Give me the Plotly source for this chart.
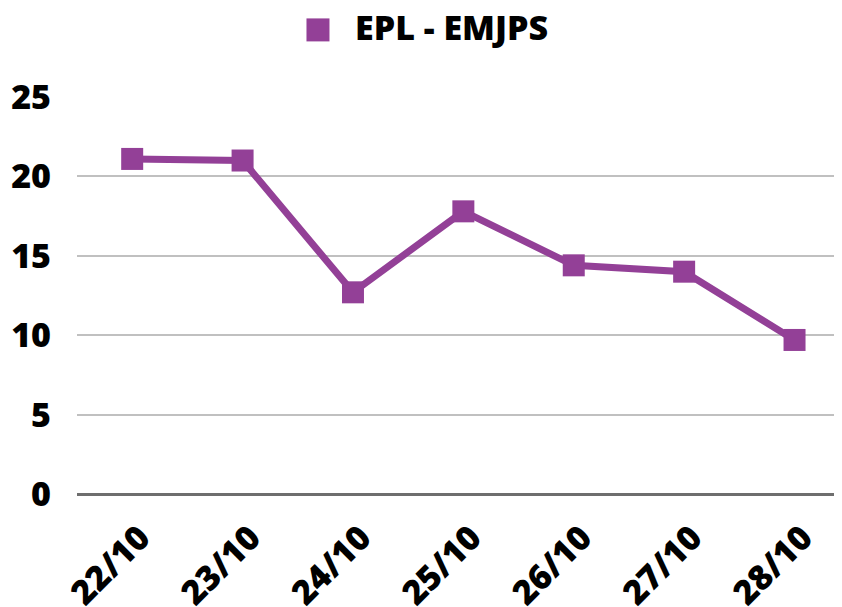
import plotly.graph_objects as go

# data
days = ["22/10", "23/10", "24/10", "25/10", "26/10", "27/10", "28/10"]
epl_emjps = [21.1, 21.0, 12.7, 17.8, 14.4, 14.0, 9.7]
y_ticks = [0, 5, 10, 15, 20, 25]
series_name = "EPL - EMJPS"

purple = "rgb(147, 64, 151)"
font_family = "Open Sans"
fsize = 34

fig = go.Figure()
fig.add_trace(go.Scatter(
  x=days,
  y=epl_emjps,
  mode="lines+markers",
  name=series_name,
  showlegend=False,
  line=dict(color=purple, width=7),
  marker=dict(symbol="square", size=22, color=purple),
))

# legend drawn by hand: plotly caps legend symbols at 16px, the reference square is bigger
fig.add_shape(
  type="rect",
  xref="paper", yref="paper",
  xsizemode="pixel", ysizemode="pixel",
  xanchor=0.315, yanchor=1.169,
  x0=-11.5, x1=11.5, y0=-11.5, y1=11.5,
  fillcolor=purple, line=dict(width=0),
)
fig.add_annotation(
  text=series_name,
  xref="paper", yref="paper",
  x=0.49, y=1.176,
  xanchor="center", yanchor="middle",
  showarrow=False,
  font=dict(size=fsize, weight=800, color="black"),
)

# page body has an 8px margin, so margins are pulled in by 8px
fig.update_layout(
  width=842,
  height=607,
  margin=dict(l=69, r=8, t=89, b=121),
  plot_bgcolor="white",
  paper_bgcolor="white",
  font=dict(family=font_family, color="black", size=fsize, weight=800),
  showlegend=False,
  xaxis=dict(
    type="category",
    range=[-0.5, 6.43],
    automargin=False,
    showgrid=False,
    showline=False,
    zeroline=False,
    ticks="",
    tickangle=-45,
    tickfont=dict(size=fsize, weight=800),
    ticklabelshift=8,
    ticklabelstandoff=16,
  ),
  yaxis=dict(
    range=[0, 25],
    tickvals=y_ticks,
    automargin=False,
    showgrid=True,
    gridcolor="rgb(192, 192, 192)",
    gridwidth=2,
    zeroline=True,
    zerolinecolor="rgb(110, 110, 110)",
    zerolinewidth=3,
    showline=False,
    ticks="",
    tickfont=dict(size=fsize, weight=800),
    ticklabelstandoff=25,
  ),
)

fig.write_html("out.html")
